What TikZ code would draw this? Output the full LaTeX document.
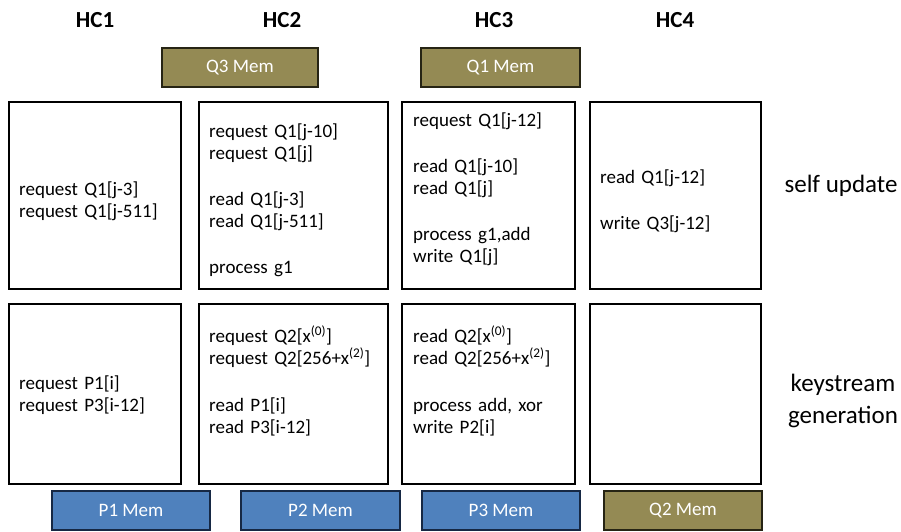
\documentclass[tikz,border=0pt]{standalone}
\usepackage{fontspec}
\setmainfont{Carlito}
\definecolor{memolive}{RGB}{148,138,84}
\definecolor{oliveedge}{RGB}{38,36,20}
\definecolor{memblue}{RGB}{79,129,189}
\definecolor{blueedge}{RGB}{22,40,68}
\begin{document}
\begin{tikzpicture}[x=1pt,y=-1pt,
  cell/.style={draw=black, line width=2.4pt, anchor=north west, inner sep=0pt, outer sep=0pt},
  celltext/.style={anchor=base west, inner sep=0pt, align=left, text width=180pt, font=\fontsize{19}{22}\selectfont},
  mem/.style={line width=2pt, anchor=north west, inner sep=0pt, outer sep=0pt, text=white,
     font=\fontsize{19}{20}\selectfont, minimum height=39pt},
  oliv/.style={mem, fill=memolive, draw=oliveedge},
  blu/.style={mem, fill=memblue, draw=blueedge},
  head/.style={font=\fontsize{23}{25}\selectfont\bfseries, inner sep=0pt},
  side/.style={font=\fontsize{25}{32}\selectfont, align=center, inner sep=0pt}]
\useasboundingbox (0,0) rectangle (901,532);

% headings
\node[head] (hc1) at (95,20) {HC1};
\node[head] (hc2) at (282,20) {HC2};
\node[head] (hc3) at (494,20) {HC3};
\node[head] (hc4) at (675,20) {HC4};

% top memories
\node[oliv, minimum width=156pt] (q3) at (162,48) {Q3 Mem};
\node[oliv, minimum width=159pt] (q1) at (421,48) {Q1 Mem};

% self update row
\node[cell, minimum width=172pt, minimum height=187pt] (a1) at (9,102) {};
\node[cell, minimum width=189pt, minimum height=187pt] (a2) at (199,102) {};
\node[cell, minimum width=173pt, minimum height=187pt] (a3) at (402,102) {};
\node[cell, minimum width=171pt, minimum height=187pt] (a4) at (590,102) {};

\node[celltext] (ta1) at (19,195) {request Q1[j-3]\\request Q1[j-511]};
\node[celltext] (ta2) at (209,137) {request Q1[j-10]\\request Q1[j]\\[24pt]read Q1[j-3]\\read Q1[j-511]\\[24pt]process g1};
\node[celltext] (ta3) at (413,126) {request Q1[j-12]\\[24pt]read Q1[j-10]\\read Q1[j]\\[24pt]process g1,add\\write Q1[j]};
\node[celltext] (ta4) at (600,183) {read Q1[j-12]\\[24pt]write Q3[j-12]};

% keystream row
\node[cell, minimum width=172pt, minimum height=180pt] (b1) at (9,304) {};
\node[cell, minimum width=189pt, minimum height=180pt] (b2) at (199,304) {};
\node[cell, minimum width=173pt, minimum height=180pt] (b3) at (402,304) {};
\node[cell, minimum width=171pt, minimum height=180pt] (b4) at (590,304) {};

\node[celltext] (tb1) at (19,389) {request P1[i]\\request P3[i-12]};
\node[celltext] (tb2) at (209,342) {request Q2[x\textsuperscript{(0)}]\\request Q2[256+x\textsuperscript{(2)}]\\[25pt]read P1[i]\\read P3[i-12]};
\node[celltext] (tb3) at (413,342) {read Q2[x\textsuperscript{(0)}]\\read Q2[256+x\textsuperscript{(2)}]\\[25pt]process add, xor\\write P2[i]};

% side labels
\node[side] (su) at (841,186) {self update};
\node[side] (kg) at (843,401) {keystream\\generation};

% bottom memories
\node[blu, minimum width=158pt] (p1) at (52,491) {P1 Mem};
\node[blu, minimum width=159pt] (p2) at (241,491) {P2 Mem};
\node[blu, minimum width=158pt] (p3) at (422,491) {P3 Mem};
\node[oliv, minimum width=158pt] (q2) at (604,491) {Q2 Mem};
\end{tikzpicture}
\end{document}
